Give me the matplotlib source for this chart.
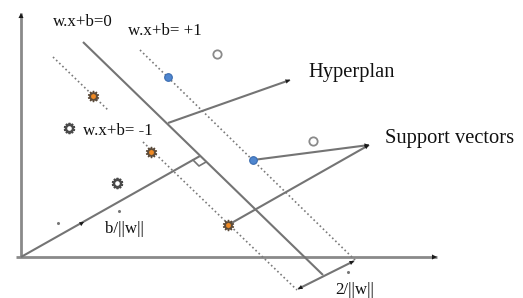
import matplotlib
matplotlib.use("Agg")
import matplotlib.pyplot as plt

# ---- data (image pixel coordinates, y downward) ----
axis_origin = (21, 257)
y_axis_top = (21, 13)
x_axis_left = (16, 257)
x_axis_right = (437, 257)

hyperplane = [(83, 42), (323, 275)]           # w.x+b=0
margin_plus = [(140, 50), (357, 262)]          # w.x+b=+1
margin_minus_a = [(53, 57), (108, 110)]        # w.x+b=-1 (upper part)
margin_minus_b = [(143, 142), (297, 290)]      # w.x+b=-1 (lower part)

normal_vec = [(21, 257), (200, 156)]
normal_head = (84, 222)
right_angle = [(193, 160), (199, 166), (206, 162)]

hyper_arrow = [(168, 123), (290, 80)]
sv_arrow_1 = [(253, 160), (369, 145)]
sv_arrow_2 = [(228, 225), (369, 145)]
margin_arrow = [(298, 289), (354, 261)]

open_circles_x = [217, 313]
open_circles_y = [54, 141]
blue_sv_x = [168, 253]
blue_sv_y = [77, 160]
orange_sv_x = [93, 151, 228]
orange_sv_y = [96, 152, 225]
gray_star_x = [69, 117]
gray_star_y = [128, 183]
specks_x = [58, 119, 348]
specks_y = [223, 211, 272]

labels = [
    ("w.x+b=0", 53, 26, 12.2),
    ("w.x+b= +1", 128, 35, 12.2),
    ("w.x+b= -1", 83, 135, 12.2),
    ("Hyperplan", 308, 77, 14.8),
    ("Support vectors", 385, 143, 14.8),
    ("b/||w||", 105, 233, 12.2),
    ("2/||w||", 335, 294, 12.2),
]

LINE = "#747474"
AXIS = "#8a8a8a"
HEAD = "#1a1a1a"

fig = plt.figure(figsize=(5.23, 2.98), dpi=100)
ax = fig.add_axes([0, 0, 1, 1])
ax.set_xlim(0, 523)
ax.set_ylim(298, 0)
ax.axis("off")


def seg(p, **kw):
    ax.plot([p[0][0], p[1][0]], [p[0][1], p[1][1]], solid_capstyle="butt", **kw)


def head(tip, frm, ms=7):
    ax.annotate("", xy=tip, xytext=frm,
                arrowprops=dict(arrowstyle="-|>", color=HEAD, lw=0.01,
                                mutation_scale=ms, shrinkA=0, shrinkB=0))


def head_at(tip, ref, ms=7):
    # arrowhead at tip pointing away from ref
    dx, dy = tip[0] - ref[0], tip[1] - ref[1]
    n = (dx * dx + dy * dy) ** 0.5
    frm = (tip[0] - dx / n * 2, tip[1] - dy / n * 2)
    head(tip, frm, ms)


# axes
seg([axis_origin, y_axis_top], color=AXIS, lw=2.0)
head_at(y_axis_top, axis_origin, 9)
seg([x_axis_left, x_axis_right], color=AXIS, lw=2.0)
head_at(x_axis_right, x_axis_left, 9)

# hyperplane and margins
seg(hyperplane, color=LINE, lw=1.5)
dot = (0, (1.0, 1.6))
for s in (margin_plus, margin_minus_a, margin_minus_b):
    seg(s, color="#7a7a7a", lw=1.2, linestyle=dot)

# normal vector
seg(normal_vec, color=LINE, lw=1.5)
head_at(normal_head, normal_vec[0], 8)
ax.plot([p[0] for p in right_angle], [p[1] for p in right_angle], color=LINE, lw=1.2)

# annotation arrows
for s in (hyper_arrow, sv_arrow_1, sv_arrow_2):
    seg(s, color=LINE, lw=1.5)
    head_at(s[1], s[0], 8)
seg(margin_arrow, color=LINE, lw=1.5)
head_at(margin_arrow[0], margin_arrow[1], 8)
head_at(margin_arrow[1], margin_arrow[0], 8)

# points
ax.plot(open_circles_x, open_circles_y, "o", ms=6, mfc="white", mec="#8a8a8a", mew=1.3, ls="none")
ax.plot(blue_sv_x, blue_sv_y, "o", ms=5.5, mfc="#4f86cf", mec="#3a6cb0", mew=0.8, ls="none")
ax.plot(orange_sv_x, orange_sv_y, marker=(10, 1, 0), ms=8, mfc="#f08a24", mec="#5a4a3a", mew=1.0, ls="none")
ax.plot(gray_star_x, gray_star_y, marker=(10, 1, 0), ms=8, mfc="white", mec="#4a4a4a", mew=1.3, ls="none")
ax.plot(specks_x, specks_y, "o", ms=1.2, color="#777777", ls="none")

for txt, x, y, fs in labels:
    ax.text(x, y, txt, family=["Liberation Serif", "DejaVu Serif"], fontsize=fs,
            color="#111111", ha="left", va="baseline")

fig.savefig("out.png", dpi=100)
